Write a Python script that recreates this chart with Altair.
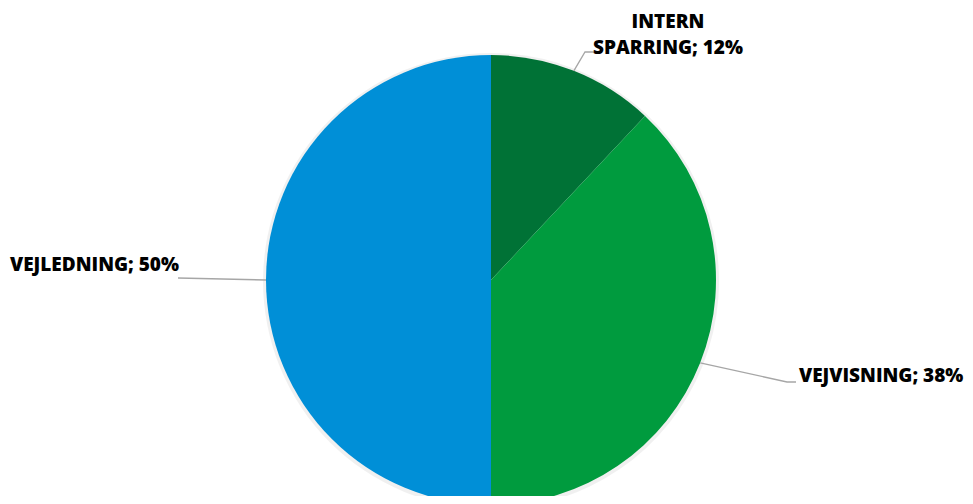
import math
import altair as alt
import pandas as pd

# ---- data ----
categories = ["INTERN SPARRING", "VEJVISNING", "VEJLEDNING"]
values = [12, 38, 50]
labels = ["INTERN\nSPARRING; 12%", "VEJVISNING; 38%", "VEJLEDNING; 50%"]

# ---- style / layout (page pixel coords) ----
colors = ["#007236", "#009B3E", "#008FD7"]
OFF = 8
CX, CY, R = 491, 280, 225
FONT = "Open Sans"
label_anchor = {  # x, y (baseline of first line), align
    "INTERN SPARRING": (668, 28, "center"),
    "VEJVISNING": (799, 382, "left"),
    "VEJLEDNING": (10, 271, "left"),
}
leader_tail = {  # elbow point(s) and end point
    "INTERN SPARRING": [(585, 52), (594, 52)],
    "VEJVISNING": [(787, 382), (796, 382)],
    "VEJLEDNING": [(178, 278)],
}

df = pd.DataFrame({"cat": categories, "value": values, "label": labels,
                   "order": list(range(len(categories)))})

# leader line points: start on pie edge at slice mid-angle (computed from data)
total = sum(values)
rows = []
cum = 0
for c, v in zip(categories, values):
    mid = (cum + v / 2) / total * 2 * math.pi
    cum += v
    pts = [(CX + R * math.sin(mid), CY - R * math.cos(mid))] + leader_tail[c]
    for i, (px, py) in enumerate(pts):
        rows.append({"cat": c, "i": i, "px": px - OFF, "py": py - OFF})
lead = pd.DataFrame(rows)

lab = pd.DataFrame([{"label": l, "cat": c, "px": label_anchor[c][0] - OFF,
                     "py": label_anchor[c][1] - OFF, "align": label_anchor[c][2]}
                    for c, l in zip(categories, labels)])

shadow = alt.Chart(df).mark_arc(radius=R + 3, color="#000000", opacity=0.06).encode(
    theta=alt.Theta("value:Q", stack=True),
    order=alt.Order("order:Q"),
    x=alt.value(CX - OFF), y=alt.value(CY - OFF + 1),
)

pie = alt.Chart(df).mark_arc(radius=R, strokeWidth=0).encode(
    theta=alt.Theta("value:Q", stack=True),
    order=alt.Order("order:Q"),
    color=alt.Color("cat:N", scale=alt.Scale(domain=categories, range=colors), legend=None),
    x=alt.value(CX - OFF), y=alt.value(CY - OFF),
)

lines = alt.Chart(lead).mark_line(color="#A6A6A6", strokeWidth=1.3).encode(
    x=alt.X("px:Q", scale=None),
    y=alt.Y("py:Q", scale=None),
    detail="cat:N",
    order="i:Q",
)

def text_layer(align):
    return alt.Chart(lab).transform_filter(alt.datum.align == align).mark_text(
        align=align, baseline="alphabetic", font=FONT, fontWeight=800,
        fontSize=19, lineBreak="\n", lineHeight=26, color="#000000",
    ).encode(x=alt.X("px:Q", scale=None), y=alt.Y("py:Q", scale=None), text="label:N")

chart = alt.layer(shadow, pie, lines, text_layer("left"), text_layer("center")).properties(
    width=957, height=488, padding=0, autosize=alt.AutoSizeParams(type="none"),
).configure_view(stroke=None)

chart.save("out.html", embed_options={"renderer": "svg", "actions": False})
